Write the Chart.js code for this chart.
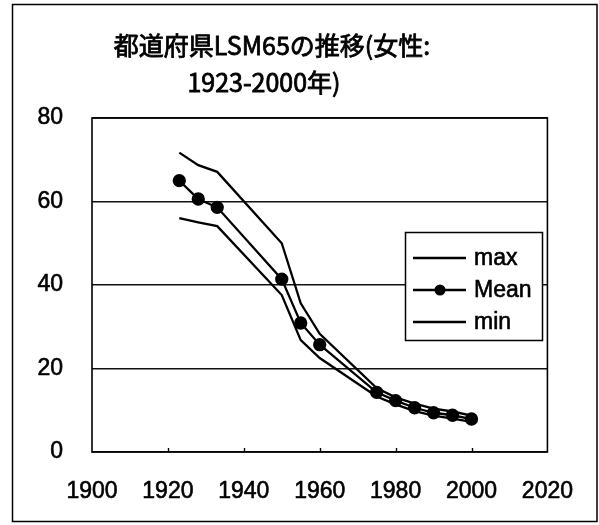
<!DOCTYPE html>
<html>
<head>
<meta charset="utf-8">
<script src="https://cdn.jsdelivr.net/npm/chart.js@4.4.1/dist/chart.umd.min.js"></script>
<style>
  html, body { margin: 0; padding: 0; background: #fff; }
  #wrap { width: 599px; height: 525px; position: relative; }
</style>
</head>
<body>
<div id="wrap"><canvas id="c" width="599" height="525"></canvas></div>
<script>
// Title lines
const titleLines = ['都道府県LSM65の推移(女性:', '1923-2000年)'];

// Survey years and prefectural LSM65 summary values (female)
const years      = [1923, 1928, 1933, 1950, 1955, 1960, 1975, 1980, 1985, 1990, 1995, 2000];
const maxValues  = [71.7, 68.7, 67.1, 50.0, 35.6, 28.3, 15.3, 13.1, 11.6, 10.4, 9.7, 8.7];
const meanValues = [65.0, 60.6, 58.6, 41.4, 30.9, 25.7, 14.3, 12.3, 10.6, 9.4, 8.8, 7.9];
const minValues  = [56.0, 55.0, 54.1, 37.6, 26.8, 22.5, 13.3, 11.4, 9.8, 8.7, 8.0, 7.2];

// Series names and axis ranges
const seriesNames = ['max', 'Mean', 'min'];
const xRange = [1900, 2020];
const yRange = [0, 80];
const xStep = 20;
const yStep = 20;

const LABEL_FONT = '"Liberation Sans", Arial, sans-serif';
const TITLE_FONT = '"Noto Sans CJK JP", sans-serif';

function toPoints(vals) {
  return years.map((y, i) => ({ x: y, y: vals[i] }));
}

// Frame, inside ticks, legend box and title
const decorations = {
  id: 'decorations',
  afterDraw(chart) {
    const ctx = chart.ctx;
    const a = chart.chartArea;
    const xs = chart.scales.x;
    ctx.save();

    // outer chart border
    ctx.strokeStyle = '#000';
    ctx.lineWidth = 1.5;
    ctx.strokeRect(12.5, 4.5, 584.5, 517);

    // plot border
    ctx.lineWidth = 1.6;
    ctx.strokeRect(a.left, a.top, a.right - a.left, a.bottom - a.top);

    // inside tick marks on the x axis
    ctx.lineWidth = 1.4;
    for (let v = xRange[0] + xStep; v < xRange[1]; v += xStep) {
      const px = Math.round(xs.getPixelForValue(v)) + 0.5;
      ctx.beginPath();
      ctx.moveTo(px, a.bottom);
      ctx.lineTo(px, a.bottom - 4);
      ctx.stroke();
    }

    // legend
    const lx = 405, ly = 232, lw = 137, lh = 108;
    ctx.fillStyle = '#fff';
    ctx.fillRect(lx, ly, lw, lh);
    ctx.lineWidth = 1.5;
    ctx.strokeRect(lx + 0.5, ly + 0.5, lw, lh);
    const rows = [258, 290, 322];
    ctx.font = '23px ' + LABEL_FONT;
    ctx.textBaseline = 'middle';
    ctx.textAlign = 'left';
    chart.data.datasets.forEach((ds, i) => {
      const yy = rows[i];
      ctx.strokeStyle = '#000';
      ctx.lineWidth = ds.borderWidth;
      ctx.beginPath();
      ctx.moveTo(413, yy);
      ctx.lineTo(466, yy);
      ctx.stroke();
      if (ds.pointRadius > 0) {
        ctx.fillStyle = '#000';
        ctx.beginPath();
        ctx.arc(440, yy, ds.pointRadius, 0, Math.PI * 2);
        ctx.fill();
      }
      ctx.fillStyle = '#000';
      ctx.fillText(ds.label, 474, yy + 1);
      ctx.lineWidth = 0.6;
      ctx.strokeText(ds.label, 474, yy + 1);
    });

    // title (regular weight, lightly stroked for a heavier look)
    ctx.font = '25px ' + TITLE_FONT;
    ctx.textAlign = 'center';
    ctx.textBaseline = 'middle';
    ctx.fillStyle = '#000';
    ctx.strokeStyle = '#000';
    ctx.lineWidth = 0.8;
    const pos = [[272, 45], [264, 82]];
    titleLines.forEach((t, i) => {
      ctx.fillText(t, pos[i][0], pos[i][1]);
      ctx.strokeText(t, pos[i][0], pos[i][1]);
    });

    ctx.restore();
  }
};

const tickStyle = {
  color: '#000',
  font: { family: LABEL_FONT, size: 23 },
  textStrokeColor: '#000',
  textStrokeWidth: 0.6
};

new Chart(document.getElementById('c'), {
  type: 'scatter',
  data: {
    datasets: [
      { label: seriesNames[0], data: toPoints(maxValues), showLine: true,
        borderColor: '#000', borderWidth: 2.3, pointRadius: 0, tension: 0 },
      { label: seriesNames[1], data: toPoints(meanValues), showLine: true,
        borderColor: '#000', borderWidth: 2.3, pointRadius: 5.5,
        pointBackgroundColor: '#000', pointBorderColor: '#000', tension: 0 },
      { label: seriesNames[2], data: toPoints(minValues), showLine: true,
        borderColor: '#000', borderWidth: 2.3, pointRadius: 0, tension: 0 }
    ]
  },
  options: {
    responsive: false,
    animation: false,
    devicePixelRatio: 1,
    layout: { padding: { top: 118, right: 47, left: 0, bottom: 0 } },
    plugins: {
      legend: { display: false },
      title: { display: false },
      tooltip: { enabled: false }
    },
    scales: {
      x: {
        type: 'linear',
        min: xRange[0], max: xRange[1],
        ticks: Object.assign({ stepSize: xStep, padding: 26, maxRotation: 0,
                               callback: (v) => String(v) }, tickStyle),
        grid: { display: false, drawTicks: false },
        border: { display: false },
        afterFit(s) { s.height = 73; }
      },
      y: {
        min: yRange[0], max: yRange[1],
        ticks: Object.assign({ stepSize: yStep, padding: 29 }, tickStyle),
        grid: { color: '#111', lineWidth: 1.4, drawTicks: false },
        border: { display: false },
        afterFit(s) { s.width = 92; }
      }
    }
  },
  plugins: [decorations]
});
</script>
</body>
</html>
